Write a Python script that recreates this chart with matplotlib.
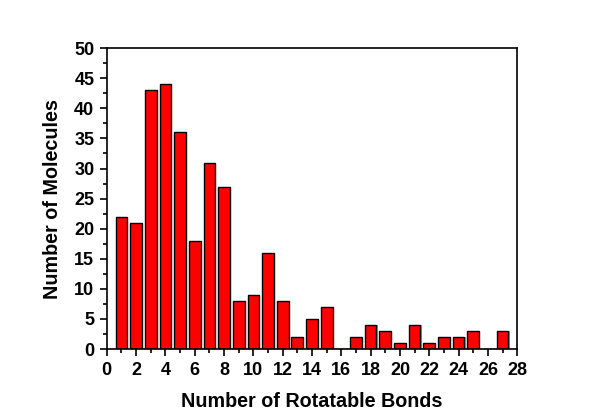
import matplotlib
matplotlib.use("Agg")
import matplotlib.pyplot as plt
from matplotlib.ticker import MultipleLocator

plt.rcParams['font.family'] = ['Liberation Sans', 'DejaVu Sans']
plt.rcParams['font.weight'] = 'bold'

# number of rotatable bonds and molecule counts
bonds = list(range(1, 28))
counts = [22, 21, 43, 44, 36, 18, 31, 27, 8, 9, 16, 8, 2, 5, 7, 0,
          2, 4, 3, 1, 4, 1, 2, 2, 3, 0, 3]

fig = plt.figure(figsize=(6, 4.19), dpi=100)
ax = fig.add_axes([0.178, 0.167, 0.684, 0.718])

# faint shadow behind each bar
ax.bar([b + 0.08 for b in bonds], counts, width=0.8, color='#999999',
       edgecolor='none', zorder=1)
ax.bar(bonds, counts, width=0.8, color='#ff0000', edgecolor='black',
       linewidth=1.0, zorder=2)

ax.set_xlim(0, 28)
ax.set_ylim(0, 50)
ax.xaxis.set_major_locator(MultipleLocator(2))
ax.xaxis.set_minor_locator(MultipleLocator(1))
ax.yaxis.set_major_locator(MultipleLocator(5))
ax.yaxis.set_minor_locator(MultipleLocator(2.5))
ax.tick_params(which='both', direction='out', top=False, right=False,
               width=1.2, labelsize=13)
ax.tick_params(which='major', length=5, pad=4)
ax.tick_params(which='minor', length=3)
for s in ax.spines.values():
    s.set_linewidth(1.2)

ax.set_xlabel('Number of Rotatable Bonds', fontsize=14.2, fontweight='bold', labelpad=10)
ax.set_ylabel('Number of Molecules', fontsize=14.2, fontweight='bold', labelpad=9)

fig.savefig('out.png', dpi=100)
